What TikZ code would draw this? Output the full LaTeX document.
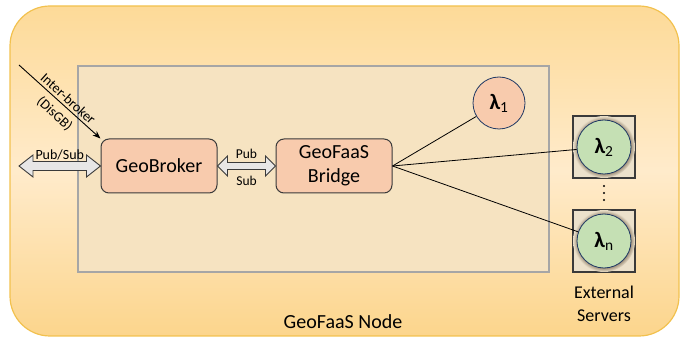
\documentclass[tikz,border=0pt]{standalone}
\usepackage{fontspec}
\setmainfont{Carlito}
\usetikzlibrary{calc,arrows.meta}
\definecolor{outtop}{HTML}{FDDA98}
\definecolor{outmid}{HTML}{FFEBCB}
\definecolor{outbot}{HTML}{FCD58C}
\definecolor{outline}{HTML}{F2C14E}
\definecolor{corefill}{HTML}{F6E3C1}
\definecolor{coreline}{HTML}{A6A6A6}
\definecolor{boxfill}{HTML}{F8CBAD}
\definecolor{boxline}{HTML}{3A3A3A}
\definecolor{lamgreen}{HTML}{C5E0B4}
\definecolor{lamline}{HTML}{1F3864}
\definecolor{extfill}{HTML}{ECE1CB}
\definecolor{glowc}{HTML}{7A6A55}
\definecolor{arrfill}{HTML}{E7E6E6}
\pgfdeclareradialshading{ringglow}{\pgfpoint{0bp}{0bp}}{color(0bp)=(glowc); color(20bp)=(glowc); color(25bp)=(extfill); color(50bp)=(extfill)}
\begin{document}
\begin{tikzpicture}[x=1pt,y=-1pt,
  box/.style={draw=boxline, line width=1pt, fill=boxfill, rounded corners=8pt, minimum width=116pt, minimum height=54pt, inner sep=0pt, font=\fontsize{20}{24}\selectfont, align=center},
  lam/.style={circle, draw=lamline, line width=0.8pt, inner sep=0pt, font=\fontsize{22}{22}\selectfont},
  extbox/.style={draw=boxline, line width=1.1pt, fill=extfill, minimum size=62pt, inner sep=0pt},
  conn/.style={draw=black, line width=0.8pt},
  blockarr/.style={draw=boxline, line width=0.9pt, fill=arrfill, line join=miter},
  smalllbl/.style={font=\fontsize{13.5}{16}\selectfont, inner sep=0pt},
  slopelbl/.style={font=\fontsize{14}{16}\selectfont, sloped}
]
\useasboundingbox (0,0) rectangle (686,339);
% outer node area
\path[draw=outline, line width=1.2pt, rounded corners=40pt, top color=outtop, bottom color=outbot, middle color=outmid] (10,6) rectangle (679,336);
\node[font=\fontsize{20}{24}\selectfont] (nodelbl) at (343,322) {GeoFaaS Node};
% inner core area
\node[draw=coreline, line width=1.4pt, fill=corefill, minimum width=471pt, minimum height=206pt, inner sep=0pt] (core) at (313.5,169) {};
% boxes
\node[box] (gb) at (159,166) {GeoBroker};
\node[box] (fb) at (334,166) {GeoFaaS\\Bridge};
% lambda 1
\node[lam, fill=boxfill, minimum size=52pt] (l1) at (499,103) {\textbf{λ}\textsubscript{1}};
% external servers
\node[extbox] (s2) at (604,147) {};
\node[extbox] (sn) at (604,241) {};
\shade[shading=ringglow] (s2.center) circle (31pt);
\shade[shading=ringglow] (sn.center) circle (31pt);
\node[lam, fill=lamgreen, minimum size=54pt] (l2) at (s2.center) {\textbf{λ}\textsubscript{2}};
\node[lam, fill=lamgreen, minimum size=54pt] (ln) at (sn.center) {\textbf{λ}\textsubscript{n}};
\foreach \yy in {186,193,200} \fill[black] (604,\yy) circle (1.1pt);
\node[font=\fontsize{18}{23}\selectfont, align=center] (extlbl) at (604,304) {External\\Servers};
% connectors bridge -> lambdas
\draw[conn] (fb.east) -- (l1);
\draw[conn] (fb.east) -- (l2);
\draw[conn] (fb.east) -- (ln);
% inter-broker
\coordinate (ib) at (19,65);
\draw[line width=0.9pt, -{Stealth[length=8pt,width=6pt]}] (ib) -- (gb.north west)
  node[slopelbl, pos=0.54, above, inner sep=2.5pt] {Inter-broker}
  node[slopelbl, pos=0.54, below, inner sep=6pt] {(DisGB)};
% pub/sub external double arrow
\coordinate (psl) at (19,166);
\draw[blockarr] (psl) -- ++(14,-11) -- ++(0,6.5) -- ($(gb.west)+(-14,-4.5)$) -- ++(0,-6.5) -- (gb.west) -- ++(-14,11) -- ++(0,-6.5) -- ($(psl)+(14,4.5)$) -- ++(0,6.5) -- cycle;
\node[font=\fontsize{14}{16}\selectfont, inner sep=0pt] (pslbl) at ($(psl)!0.5!(gb.west)+(0,-11)$) {Pub/Sub};
% pub/sub between broker and bridge
\draw[blockarr] (gb.east) -- ++(10,-10) -- ++(0,6.5) -- ($(fb.west)+(-10,-3.5)$) -- ++(0,-6.5) -- (fb.west) -- ++(-10,10) -- ++(0,-6.5) -- ($(gb.east)+(10,3.5)$) -- ++(0,6.5) -- cycle;
\node[smalllbl] (publbl) at ($(gb.east)!0.5!(fb.west)+(0,-12)$) {Pub};
\node[smalllbl] (sublbl) at ($(gb.east)!0.5!(fb.west)+(0,15)$) {Sub};
\end{tikzpicture}
\end{document}
